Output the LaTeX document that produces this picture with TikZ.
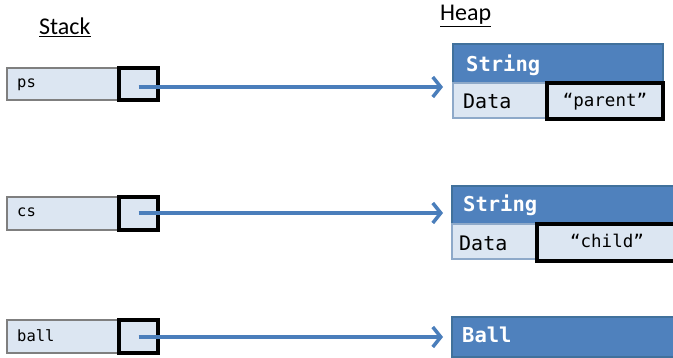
\documentclass[tikz,border=0pt]{standalone}
\usepackage{fontspec}
\setmainfont{Carlito}
\newfontfamily\codefont{DejaVu Sans Mono}
\usetikzlibrary{arrows.meta}

\definecolor{hdrblue}{HTML}{4F81BD}
\definecolor{hdredge}{HTML}{41719C}
\definecolor{cellfill}{HTML}{DCE6F2}
\definecolor{celledge}{HTML}{8EA9C9}
\definecolor{varedge}{HTML}{7F7F7F}
\definecolor{refblue}{HTML}{4A7EBB}

\tikzset{
  boxbase/.style={rectangle, anchor=north west, inner sep=0pt, outer sep=0pt},
  varbox/.style={boxbase, draw=varedge, fill=cellfill, line width=1.3pt},
  ptrbox/.style={boxbase, draw=black, fill=cellfill, line width=3.5pt},
  header/.style={boxbase, draw=hdredge, fill=hdrblue, line width=1.3pt},
  datarow/.style={boxbase, draw=celledge, fill=cellfill, line width=1.3pt},
  valbox/.style={boxbase, draw=black, fill=cellfill, line width=3.5pt},
  title/.style={anchor=base west, inner sep=0pt, font=\fontsize{24}{28}\selectfont},
  varname/.style={anchor=base west, inner sep=0pt, font=\codefont\fontsize{15.5}{18}\selectfont},
  typename/.style={anchor=base west, inner sep=0pt, text=white, font=\codefont\bfseries\fontsize{20.5}{24}\selectfont},
  fieldname/.style={anchor=base west, inner sep=0pt, font=\codefont\fontsize{20}{24}\selectfont},
  fieldval/.style={anchor=base, inner sep=0pt, font=\codefont\fontsize{17.5}{20}\selectfont},
  ref/.style={draw=refblue, line width=3.5pt,
    -{Straight Barb[length=8pt,width=20pt,line width=3.5pt]}},
}

\begin{document}
\begin{tikzpicture}[x=1pt, y=-1pt]
\useasboundingbox (0,0) rectangle (673,358);

% column titles
\node[title] (stacktitle) at (39,35) {\underline{Stack}};
\node[title] (heaptitle) at (440,21) {\underline{Heap}};

% stack variables
\node[varbox, minimum width=151, minimum height=32] (ps) at (7,68) {};
\node[ptrbox, minimum width=39, minimum height=32] (psptr) at (119,68) {};
\node[varname] (pslbl) at (17,88) {ps};

\node[varbox, minimum width=151, minimum height=33] (cs) at (7,197) {};
\node[ptrbox, minimum width=39, minimum height=33] (csptr) at (119,197) {};
\node[varname] (cslbl) at (17,217) {cs};

\node[varbox, minimum width=151, minimum height=33] (ball) at (7,320) {};
\node[ptrbox, minimum width=39, minimum height=33] (ballptr) at (119,320) {};
\node[varname] (balllbl) at (17,342) {ball};

% heap object: String "parent"
\node[header, minimum width=210, minimum height=39] (str1) at (453,44) {};
\node[datarow, minimum width=210, minimum height=35] (str1row) at (453,83) {};
\node[valbox, minimum width=116, minimum height=36] (str1val) at (547,83) {};
\node[typename] (str1name) at (466,72) {String};
\node[fieldname] (str1field) at (463,109) {Data};
\node[fieldval] (str1text) at (str1val.center |- 0,107) {“parent”};

% heap object: String "child"
\node[header, minimum width=225, minimum height=38] (str2) at (452,186) {};
\node[datarow, minimum width=225, minimum height=35] (str2row) at (452,224) {};
\node[valbox, minimum width=140, minimum height=37] (str2val) at (537,224) {};
\node[typename] (str2name) at (463,212) {String};
\node[fieldname] (str2field) at (459,251) {Data};
\node[fieldval] (str2text) at (607,248) {“child”};

% heap object: Ball
\node[header, minimum width=225, minimum height=40] (ballobj) at (452,317) {};
\node[typename] (ballname) at (462,343) {Ball};

% references
\coordinate (psend) at (443,87);
\coordinate (csend) at (443,213);
\coordinate (ballend) at (443,337);
\draw[ref] (psptr.center |- psend) -- (psend);
\draw[ref] (csptr.center |- csend) -- (csend);
\draw[ref] (ballptr.center |- ballend) -- (ballend);
\end{tikzpicture}
\end{document}
